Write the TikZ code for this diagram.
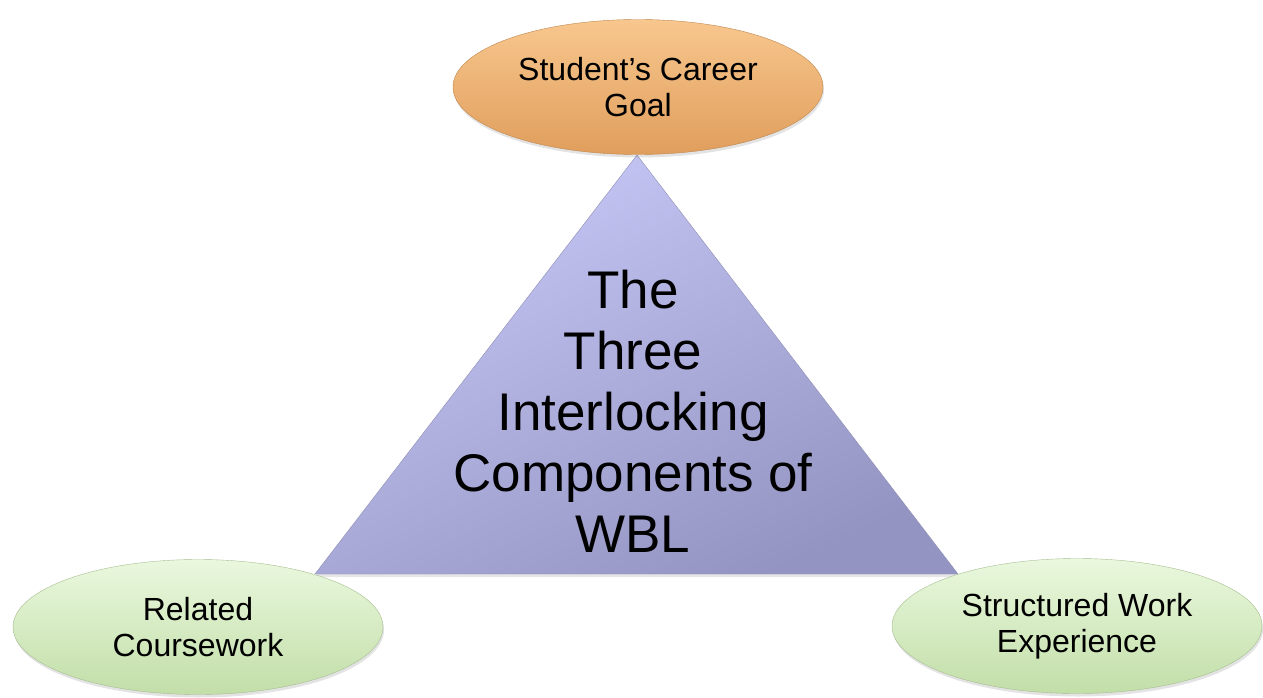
\documentclass[tikz,border=0pt]{standalone}
\usepackage{fontspec}
\setmainfont{Liberation Sans}
\usepackage{tikz}
\usetikzlibrary{shapes}
\usetikzlibrary{shadows}
\usetikzlibrary{calc}
\usepackage{xcolor}
\definecolor{goalLight}{HTML}{F8C78E}
\definecolor{goalDark}{HTML}{E09E5C}
\definecolor{partLight}{HTML}{EAF8DE}
\definecolor{partDark}{HTML}{C2DEA8}
\definecolor{triLight}{HTML}{C8C8F8}
\definecolor{triMid}{HTML}{B2B2E2}
\definecolor{triDark}{HTML}{9494C2}
\newcommand{\ovalW}{370}
\newcommand{\ovalH}{135}
\tikzstyle{oval}=[ellipse, minimum width=\ovalW pt, minimum height=\ovalH pt, inner sep=0pt, align=center, font=\fontsize{32}{36}\selectfont, drop shadow={opacity=0.22, shadow xshift=1pt, shadow yshift=-3pt}]
\tikzstyle{goal oval}=[oval, top color=goalLight, bottom color=goalDark, draw=goalDark!85!black, line width=0.4pt]
\tikzstyle{part oval}=[oval, top color=partLight, bottom color=partDark, draw=partDark!85!black, line width=0.4pt]
\tikzstyle{tri shade}=[top color=triLight, middle color=triMid, bottom color=triDark, shading angle=25, draw=triMid!80!black, line width=0.4pt, drop shadow={opacity=0.2, shadow xshift=0pt, shadow yshift=-3pt}]
\tikzstyle{big text}=[align=center, inner sep=0pt, font=\fontsize{53}{61}\selectfont]

\begin{document}
\begin{tikzpicture}[x=1pt, y=-1pt]
\useasboundingbox (0,0) rectangle (1263,698);
\coordinate (apex) at (637,155);
\coordinate (baseL) at (315,574);
\coordinate (baseR) at (958,574);
\path[tri shade] (apex) -- (baseL) -- (baseR) -- cycle;
\node[big text] (title) at (633,411) {The\\Three\\Interlocking\\Components of\\WBL};
\node[goal oval] (goal) at (638,87) {Student’s Career\\Goal};
\node[part oval] (course) at (198,627) {Related\\Coursework};
\node[part oval] (work) at (1077,626) {Structured Work\\Experience};
\end{tikzpicture}
\end{document}
